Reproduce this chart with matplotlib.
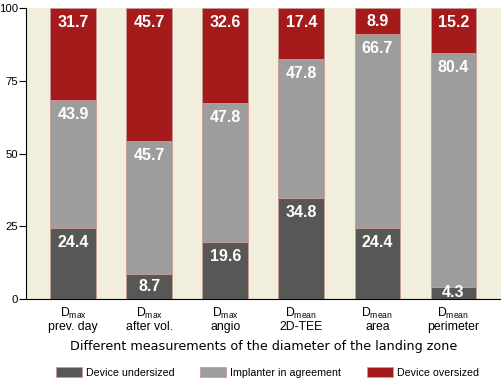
import numpy as np
import matplotlib
matplotlib.use("Agg")
import matplotlib.pyplot as plt

# Daten
methods = ["max", "max", "max", "mean", "mean", "mean"]
method_names = ["prev. day", "after vol.", "angio", "2D-TEE", "area", "perimeter"]
undersized = [24.4, 8.7, 19.6, 34.8, 24.4, 4.3]
agreement = [43.9, 45.7, 47.8, 47.8, 66.7, 80.4]
oversized = [31.7, 45.7, 32.6, 17.4, 8.9, 15.2]
series_names = ["Device undersized", "Implanter in agreement", "Device oversized"]
colors = ["#575755", "#9d9d9c", "#a51a1a"]

cond = "Liberation Sans"
plt.rcParams["mathtext.fontset"] = "custom"
plt.rcParams["mathtext.rm"] = cond

fig = plt.figure(figsize=(5.02, 3.84), dpi=100)
ax = fig.add_axes([0.052, 0.221, 0.948, 0.758])
ax.set_facecolor("#f2eedc")

x = np.arange(len(method_names))
bottom = np.zeros(len(x))
for vals, col, lab in zip([undersized, agreement, oversized], colors, series_names):
    vals = np.array(vals)
    ax.bar(x, vals, 0.6, bottom=bottom, color=col, edgecolor="#c99a98",
           linewidth=0.6, label=lab)
    for xi, b, v in zip(x, bottom, vals):
        top = min(b + v, 100)
        y = (b + top) / 2 if v < 10 else top - 5.0
        ax.text(xi, y, f"{v:.1f}", ha="center", va="center", color="white",
                fontsize=11.5, family=cond, fontweight="bold")
    bottom += vals

ax.set_xlim(-0.62, 5.64)
ax.set_ylim(0, 100)
ax.set_yticks([0, 25, 50, 75, 100])
ax.set_yticklabels(["0", "25", "50", "75", "100"], family=cond, fontsize=8.2)
ax.set_xticks(x)
ax.set_xticklabels([f"D$_{{\\mathrm{{{m}}}}}$\n{n}" for m, n in zip(methods, method_names)],
                   family=cond, fontsize=8.8, linespacing=1.0)
ax.tick_params(axis="x", length=0, pad=5)
ax.tick_params(axis="y", length=5, pad=1)
for s in ["top", "right"]:
    ax.spines[s].set_visible(False)
ax.set_xlabel("Different measurements of the diameter of the landing zone",
              fontsize=9.2, labelpad=5)

fig.legend(loc="center", bbox_to_anchor=(0.533, 0.031), ncol=3, frameon=False,
           prop={"family": cond, "size": 7.7}, handlelength=2.4, handleheight=1.15,
           columnspacing=2.4, handletextpad=0.4)

plt.savefig("out.png", dpi=100)
